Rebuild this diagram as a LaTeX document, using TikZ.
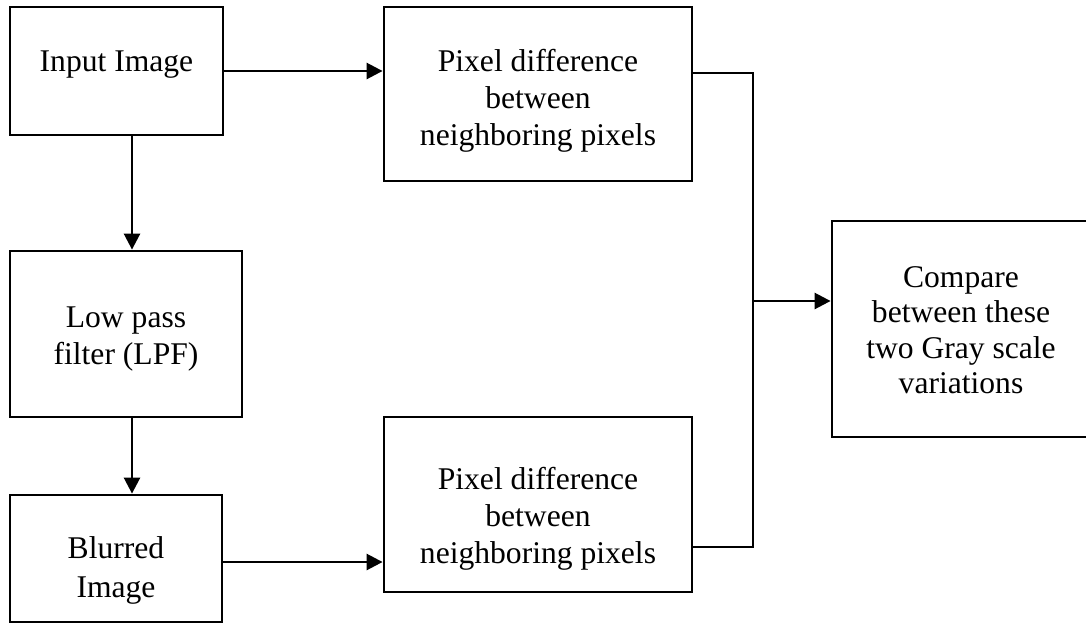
\documentclass[tikz,border=0pt]{standalone}
\usepackage{fontspec}
\setmainfont{Liberation Serif}
\usetikzlibrary{arrows.meta}
\newcommand{\btext}[4]{\parbox[c][#2pt][t]{#1pt}{\centering\rule{0pt}{#3pt}#4\par}}
\tikzset{
  blk/.style={draw, line width=2.8pt, inner sep=0pt, font=\fontsize{31.6}{37}\selectfont},
  conn/.style={line width=2.6pt},
  arr/.style={conn, -{Triangle[length=16pt,width=16pt]}},
}
\begin{document}
\begin{tikzpicture}[x=1pt,y=1pt]
\useasboundingbox (0,0) rectangle (1086,-624);
\node[blk] (in)   at (116.5,-71)  {\btext{213}{128}{64}{Input Image}};
\node[blk] (lpf)  at (126,-334)   {\btext{232}{166}{76}{Low pass\\filter (LPF)}};
\node[blk] (blur) at (116,-558.5) {\btext{212}{127}{63}{Blurred\\[2pt]Image}};
\node[blk] (d1)   at (538,-94)    {\btext{308}{174}{64}{Pixel difference\\between\\neighboring pixels}};
\node[blk] (d2)   at (538,-504.5) {\btext{308}{175}{72}{Pixel difference\\between\\neighboring pixels}};
\node[blk, font=\fontsize{31.6}{35.5}\selectfont] (cmp) at (1001,-329) {\hbox{\btext{258}{216}{66}{Compare\\between these\\two Gray scale\\variations}\hspace{80pt}}};
\coordinate (vx) at (132,0);
\coordinate (by) at (0,-562);
\coordinate (j1) at (753,-73);
\coordinate (j2) at (753,-547);
\coordinate (jm) at (753,-301);
\draw[arr] (in.east) -- (in.east -| d1.west);
\draw[arr] (in.south -| vx) -- (lpf.north -| vx);
\draw[arr] (lpf.south -| vx) -- (blur.north -| vx);
\draw[arr] (blur.east |- by) -- (d2.west |- by);
\draw[conn] (d1.east |- j1) -- (j1) -- (j2) -- (d2.east |- j2);
\draw[arr] (jm) -- (jm -| cmp.west);
\end{tikzpicture}
\end{document}
